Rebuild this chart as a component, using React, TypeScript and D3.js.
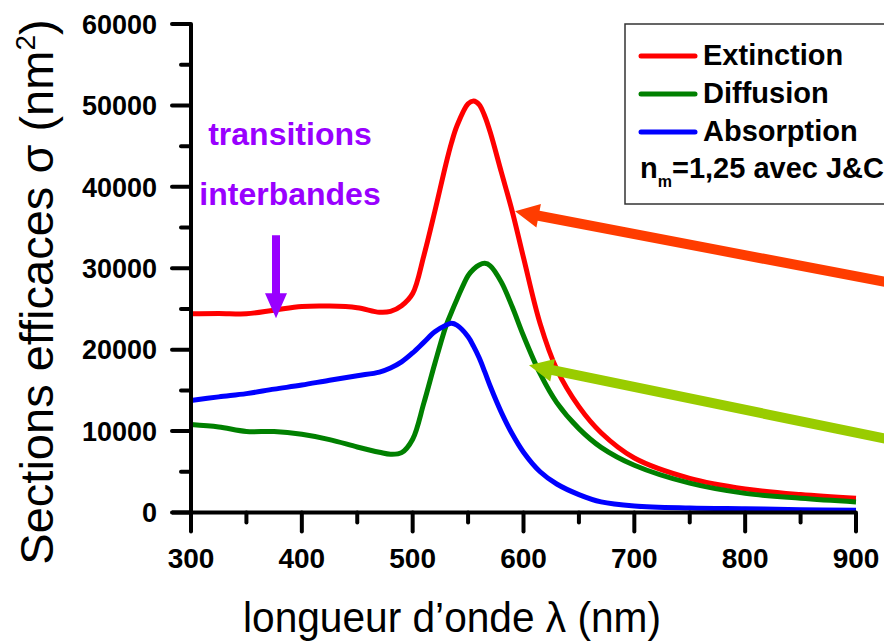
import React from "react";
import * as d3 from "d3";

const wavelengths = [300, 325, 350, 375, 400, 425, 450, 470, 480, 490, 500, 510, 520, 530, 535, 540, 550, 555, 560, 565, 570, 580, 590, 600, 615, 630, 650, 670, 700, 750, 800, 850, 900];
const extinction = [24400, 24450, 24400, 24850, 25300, 25350, 25150, 24600, 24700, 25400, 26900, 31500, 37000, 42800, 45400, 47500, 50200, 50550, 50100, 48700, 46700, 41800, 36900, 31300, 23200, 17600, 13000, 9800, 6700, 4200, 2900, 2200, 1750];
const diffusion = [10800, 10500, 9950, 9950, 9600, 8950, 8050, 7400, 7150, 7350, 9000, 13400, 18300, 22900, 24600, 26200, 29100, 29900, 30400, 30600, 30300, 28300, 25200, 21700, 17050, 13500, 10300, 8000, 5800, 3600, 2350, 1750, 1300];
const absorption = [13750, 14200, 14600, 15150, 15650, 16250, 16800, 17250, 17750, 18500, 19600, 20900, 22200, 23000, 23250, 23000, 21600, 20400, 19000, 17300, 15500, 12300, 9600, 7400, 5000, 3500, 2200, 1300, 800, 550, 450, 350, 280];
const seriesNames = ["Extinction", "Diffusion", "Absorption"];
const seriesColors = ["#ff0000", "#008000", "#0000ff"];
const xTicks = [300, 400, 500, 600, 700, 800, 900];
const xMinorTicks = [350, 450, 550, 650, 750, 850];
const yTicks = [0, 10000, 20000, 30000, 40000, 50000, 60000];
const yMinorTicks = [5000, 15000, 25000, 35000, 45000, 55000];

function arrowPath(tx: number, ty: number, sx: number, sy: number, shaftW: number, headLen: number, headW: number) {
  const dx = sx - tx, dy = sy - ty;
  const L = Math.hypot(dx, dy);
  const ux = dx / L, uy = dy / L;
  const px = -uy, py = ux;
  const bx = tx + ux * headLen, by = ty + uy * headLen;
  const pts = [
    [tx, ty],
    [bx + px * headW / 2, by + py * headW / 2],
    [bx + px * shaftW / 2, by + py * shaftW / 2],
    [sx + px * shaftW / 2, sy + py * shaftW / 2],
    [sx - px * shaftW / 2, sy - py * shaftW / 2],
    [bx - px * shaftW / 2, by - py * shaftW / 2],
    [bx - px * headW / 2, by - py * headW / 2],
  ];
  return "M" + pts.map((p) => p[0].toFixed(1) + "," + p[1].toFixed(1)).join("L") + "Z";
}

export default function App() {
  const W = 884, H = 642;
  const x = d3.scaleLinear().domain([300, 900]).range([191, 856]);
  const y = d3.scaleLinear().domain([0, 60000]).range([512.5, 24]);
  const line = d3
    .line<number>()
    .x((_, i) => x(wavelengths[i]))
    .y((d) => y(d))
    .curve(d3.curveCatmullRom.alpha(0.5));
  const series = [extinction, diffusion, absorption];
  const font = "'Liberation Sans', Arial, sans-serif";
  const axisY = y(0);
  const axisX = x(300);

  return (
    <svg width={W} height={H} style={{ position: "absolute", left: 0, top: 0 }} fontFamily={font}>
      <rect x={0} y={0} width={W} height={H} fill="#ffffff" />
      {series.map((s, i) => (
        <path key={i} d={line(s) || ""} fill="none" stroke={seriesColors[i]} strokeWidth={5} strokeLinejoin="round" />
      ))}
      <line x1={axisX} x2={axisX} y1={y(60000)} y2={axisY + 19} stroke="#000" strokeWidth={4} />
      <line x1={axisX - 19} x2={x(900)} y1={axisY} y2={axisY} stroke="#000" strokeWidth={4} />
      {yTicks.map((t) => (
        <g key={"yt" + t}>
          <line x1={axisX - 19} x2={axisX} y1={y(t)} y2={y(t)} stroke="#000" strokeWidth={4} strokeLinecap="round" />
          <text x={157} y={y(t)} dy="0.36em" textAnchor="end" fontSize={27} fontWeight="bold">{t}</text>
        </g>
      ))}
      {yMinorTicks.map((t) => (
        <line key={"ym" + t} x1={axisX - 10} x2={axisX} y1={y(t)} y2={y(t)} stroke="#000" strokeWidth={4} strokeLinecap="round" />
      ))}
      {xTicks.map((t) => (
        <g key={"xt" + t}>
          <line x1={x(t)} x2={x(t)} y1={axisY} y2={axisY + 19} stroke="#000" strokeWidth={4} strokeLinecap="round" />
          <text x={x(t)} y={568} textAnchor="middle" fontSize={28} fontWeight="bold">{t}</text>
        </g>
      ))}
      {xMinorTicks.map((t) => (
        <line key={"xm" + t} x1={x(t)} x2={x(t)} y1={axisY} y2={axisY + 10} stroke="#000" strokeWidth={4} strokeLinecap="round" />
      ))}
      <text x={243} y={632} fontSize={43} textLength={418} lengthAdjust="spacingAndGlyphs">longueur d’onde λ (nm)</text>
      <text transform="translate(53,292) rotate(-90)" textAnchor="middle" fontSize={47}>
        Sections efficaces σ (nm<tspan dy={-18} fontSize={28}>2</tspan><tspan dy={18}>)</tspan>
      </text>
      <text x={290} y={145} textAnchor="middle" fontSize={32} fontWeight="bold" fill="#9900ff">transitions</text>
      <text x={290} y={205} textAnchor="middle" fontSize={32} fontWeight="bold" fill="#9900ff">interbandes</text>
      <path d={arrowPath(x(376.7), y(23850), x(376.7), y(34060), 8, 25, 22)} fill="#9900ff" />
      <path d={arrowPath(x(592.4), y(37000), x(947), y(27790), 10, 24, 24)} fill="#ff3c00" />
      <path d={arrowPath(x(605), y(18080), x(940), y(8680), 10, 24, 23)} fill="#99cc00" />
      <rect x={625} y={24} width={300} height={180} fill="#ffffff" stroke="#333" strokeWidth={1.5} />
      {seriesNames.map((n, i) => (
        <g key={n}>
          <line x1={641} x2={695} y1={56 + i * 38} y2={56 + i * 38} stroke={seriesColors[i]} strokeWidth={5} strokeLinecap="round" />
          <text x={703} y={65 + i * 38} fontSize={29} fontWeight="bold">{n}</text>
        </g>
      ))}
      <text x={640} y={178} fontSize={29} fontWeight="bold">
        n<tspan dy={9} fontSize={16}>m</tspan><tspan dy={-9}>=1,25 avec J&amp;C</tspan>
      </text>
    </svg>
  );
}
